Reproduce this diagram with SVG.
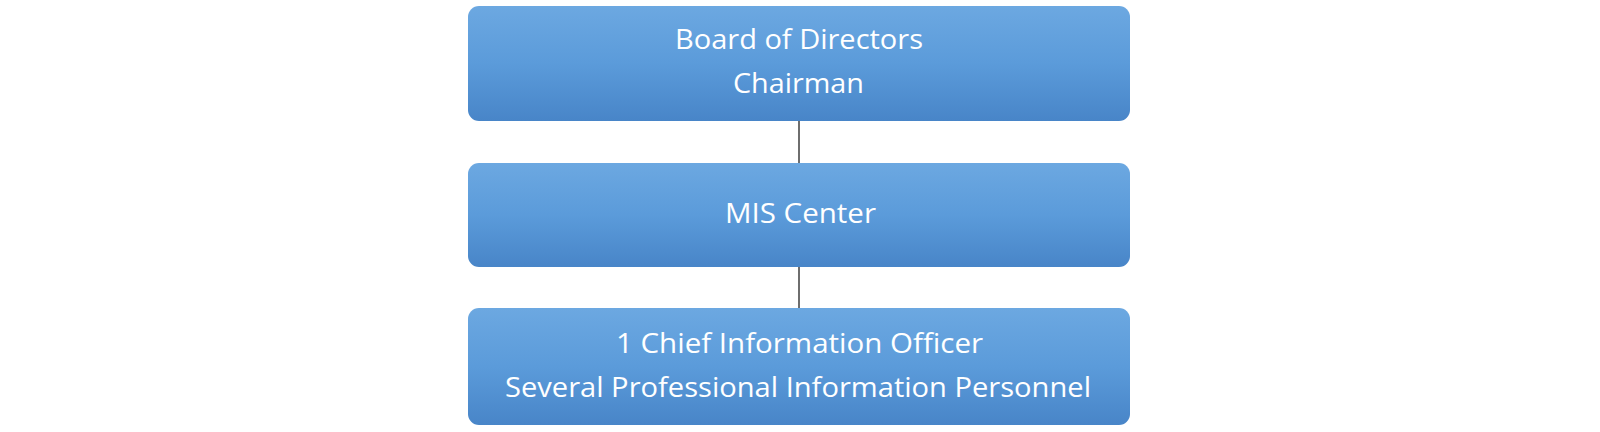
<svg xmlns="http://www.w3.org/2000/svg" width="1600" height="432" viewBox="0 0 1600 432">
<defs>
<linearGradient id="g" x1="0" y1="0" x2="0" y2="1">
<stop offset="0" stop-color="#6ca8e1"/>
<stop offset="0.5" stop-color="#5b9bda"/>
<stop offset="1" stop-color="#4885c8"/>
</linearGradient>
<style>
.box{fill:url(#g);}
.t{font-family:"Open Sans","Noto Sans","DejaVu Sans",sans-serif;font-size:27px;fill:#ffffff;text-anchor:middle;}
.c{stroke:#6e6e6e;stroke-width:2;fill:none;}
</style>
</defs>
<rect width="1600" height="432" fill="#ffffff"/>
<g id="connectors">
<line class="c" x1="799" y1="121" x2="799" y2="163"/>
<line class="c" x1="799" y1="267" x2="799" y2="308"/>
</g>
<g id="board">
<rect class="box" x="468" y="6" width="662" height="115" rx="11"/>
<text class="t" x="799" y="49" textLength="248" lengthAdjust="spacingAndGlyphs">Board of Directors</text>
<text class="t" x="798.5" y="93" textLength="131" lengthAdjust="spacingAndGlyphs">Chairman</text>
</g>
<g id="mis">
<rect class="box" x="468" y="163" width="662" height="104" rx="11"/>
<text class="t" x="800.5" y="223" textLength="151" lengthAdjust="spacingAndGlyphs">MIS Center</text>
</g>
<g id="staff">
<rect class="box" x="468" y="308" width="662" height="117" rx="11"/>
<text class="t" x="799.5" y="353" textLength="367" lengthAdjust="spacingAndGlyphs">1 Chief Information Officer</text>
<text class="t" x="798" y="397" textLength="586" lengthAdjust="spacingAndGlyphs">Several Professional Information Personnel</text>
</g>
</svg>
